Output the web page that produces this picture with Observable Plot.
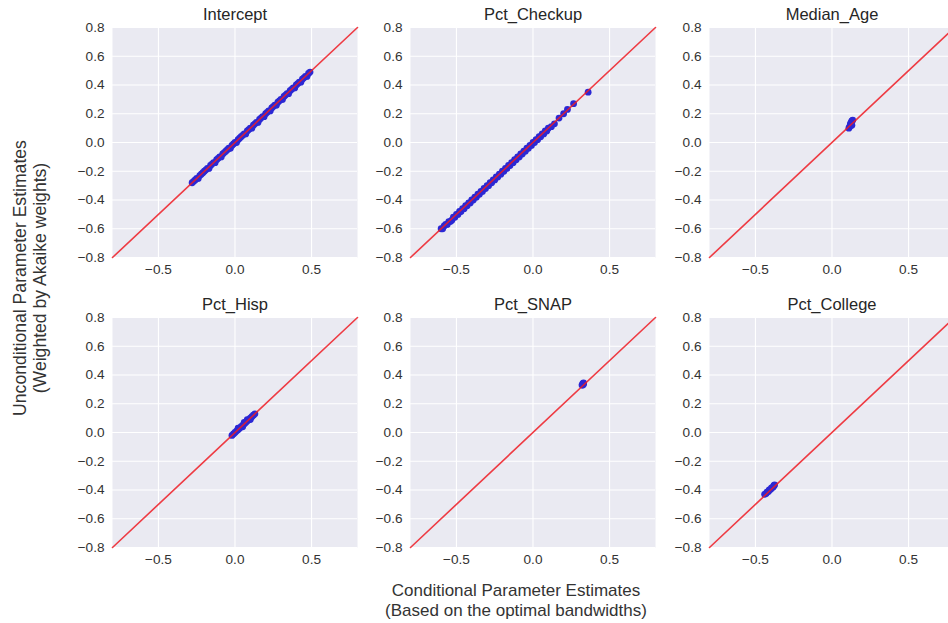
<!DOCTYPE html>
<html>
<head>
<meta charset="utf-8">
<script src="https://cdn.jsdelivr.net/npm/d3@7"></script>
<script src="https://cdn.jsdelivr.net/npm/@observablehq/plot@0.6"></script>
<style>
  body { margin: 0; background: #fff; }
  #wrap { position: relative; width: 948px; height: 623px; overflow: hidden; background: #fff;
          font-family: "Liberation Sans", Arial, sans-serif; color: #262626; }
  .panel { position: absolute; }
  .xlab { position: absolute; left: 316px; width: 400px; top: 581px; text-align: center;
          font-size: 17px; line-height: 19.6px; white-space: nowrap; color: #333; }
  .ylab { position: absolute; left: 30px; top: 278px; width: 400px; text-align: center;
          font-size: 17.6px; line-height: 20px; white-space: nowrap; color: #333;
          transform: translate(-50%, -50%) rotate(-90deg); }
</style>
</head>
<body>
<div id="wrap"></div>
<script>
// ---- data ----
const panelTitles = ["Intercept", "Pct_Checkup", "Median_Age", "Pct_Hisp", "Pct_SNAP", "Pct_College"];
const xTicks = [-0.5, 0, 0.5];
const yTicks = [-0.8, -0.6, -0.4, -0.2, 0, 0.2, 0.4, 0.6, 0.8];
const axisDomain = [-0.8, 0.8];
const diagonal = [-0.8, 0.8];

// [conditional, unconditional] estimates
const interceptPts = [[-0.28,-0.28],[-0.27,-0.27],[-0.26,-0.26],[-0.25,-0.25],[-0.24,-0.25],[-0.23,-0.23],
  [-0.22,-0.22],[-0.21,-0.21],[-0.20,-0.20],[-0.19,-0.19],[-0.18,-0.18],[-0.17,-0.18],[-0.16,-0.16],[-0.15,-0.15],
  [-0.14,-0.14],[-0.13,-0.14],[-0.12,-0.12],[-0.11,-0.11],[-0.10,-0.10],[-0.09,-0.10],[-0.08,-0.08],[-0.07,-0.07],
  [-0.06,-0.06],[-0.05,-0.05],[-0.04,-0.04],[-0.03,-0.04],[-0.02,-0.02],[-0.01,-0.01],[0.00,0.00],[0.01,0.00],
  [0.02,0.02],[0.03,0.03],[0.04,0.04],[0.05,0.05],[0.06,0.06],[0.07,0.06],[0.08,0.08],[0.09,0.09],[0.10,0.10],
  [0.11,0.10],[0.12,0.12],[0.13,0.13],[0.14,0.14],[0.15,0.14],[0.16,0.16],[0.17,0.17],[0.18,0.18],[0.19,0.18],
  [0.20,0.20],[0.21,0.21],[0.22,0.22],[0.23,0.22],[0.24,0.24],[0.25,0.25],[0.26,0.26],[0.27,0.26],[0.28,0.28],
  [0.29,0.29],[0.30,0.30],[0.31,0.30],[0.32,0.32],[0.33,0.33],[0.34,0.34],[0.35,0.34],[0.36,0.36],[0.37,0.37],
  [0.38,0.38],[0.39,0.38],[0.40,0.40],[0.41,0.41],[0.42,0.42],[0.43,0.42],[0.44,0.44],[0.45,0.45],[0.46,0.46],
  [0.47,0.46],[0.48,0.48],[0.49,0.49]];
const checkupPts = [[-0.60,-0.60],[-0.59,-0.60],[-0.58,-0.58],[-0.57,-0.57],[-0.56,-0.57],[-0.55,-0.55],
  [-0.54,-0.55],[-0.53,-0.54],[-0.52,-0.52],[-0.51,-0.52],[-0.50,-0.50],[-0.49,-0.50],[-0.48,-0.48],[-0.47,-0.48],
  [-0.46,-0.46],[-0.45,-0.46],[-0.44,-0.44],[-0.43,-0.44],[-0.42,-0.42],[-0.41,-0.42],[-0.40,-0.40],[-0.39,-0.40],
  [-0.38,-0.38],[-0.37,-0.38],[-0.36,-0.36],[-0.35,-0.36],[-0.34,-0.34],[-0.33,-0.34],[-0.32,-0.32],[-0.31,-0.32],
  [-0.30,-0.30],[-0.29,-0.30],[-0.28,-0.28],[-0.27,-0.28],[-0.26,-0.26],[-0.25,-0.26],[-0.24,-0.24],[-0.23,-0.24],
  [-0.22,-0.22],[-0.21,-0.22],[-0.20,-0.20],[-0.19,-0.20],[-0.18,-0.18],[-0.17,-0.18],[-0.16,-0.16],[-0.15,-0.16],
  [-0.14,-0.14],[-0.13,-0.14],[-0.12,-0.12],[-0.11,-0.12],[-0.10,-0.10],[-0.09,-0.10],[-0.08,-0.08],[-0.07,-0.08],
  [-0.06,-0.06],[-0.05,-0.06],[-0.04,-0.04],[-0.03,-0.04],[-0.02,-0.02],[-0.01,-0.02],[0.00,0.00],[0.01,0.00],
  [0.02,0.02],[0.03,0.02],[0.04,0.04],[0.05,0.04],[0.06,0.06],[0.07,0.06],[0.08,0.08],[0.09,0.08],[0.10,0.10],
  [0.12,0.11],[0.14,0.13],[0.17,0.17],[0.20,0.20],[0.225,0.23],[0.265,0.27],[0.36,0.35]];
const medianAgePts = [[0.11,0.10],[0.115,0.11],[0.12,0.12],[0.12,0.13],[0.125,0.14],[0.13,0.15],[0.135,0.155],[0.13,0.12]];
const hispPts = [[-0.02,-0.02],[-0.01,-0.01],[0.00,0.00],[0.01,0.01],[0.02,0.02],[0.02,0.03],[0.03,0.03],[0.04,0.04],
  [0.05,0.04],[0.05,0.05],[0.06,0.06],[0.06,0.07],[0.07,0.07],[0.08,0.08],[0.08,0.09],[0.09,0.09],[0.10,0.09],
  [0.10,0.10],[0.11,0.11],[0.12,0.12],[0.13,0.13]];
const snapPts = [[0.32,0.33],[0.325,0.34],[0.33,0.345],[0.33,0.335],[0.325,0.33]];
const collegePts = [[-0.44,-0.43],[-0.43,-0.425],[-0.425,-0.415],[-0.415,-0.41],[-0.41,-0.40],[-0.40,-0.395],
  [-0.395,-0.385],[-0.385,-0.38],[-0.38,-0.37],[-0.375,-0.365]];
const panelPoints = [interceptPts, checkupPts, medianAgePts, hispPts, snapPts, collegePts];

const xLabelLines = ["Conditional Parameter Estimates", "(Based on the optimal bandwidths)"];
const yLabelLines = ["Unconditional Parameter Estimates", "(Weighted by Akaike weights)"];

// ---- layout ----
const colLeft = [112, 410, 709];
const rowTop = [27, 317];
const mL = 50, mR = 2, mT = 27, mB = 30, pw = 245, ph = 230;

const fmt = d => d.toFixed(1).replace("-", "\u2212");
const wrap = document.getElementById("wrap");

panelTitles.forEach((title, i) => {
  const col = i % 3, row = Math.floor(i / 3);
  const svg = Plot.plot({
    width: mL + pw + mR, height: mT + ph + mB,
    marginLeft: mL, marginRight: mR, marginTop: mT, marginBottom: mB,
    style: { fontFamily: "Liberation Sans, Arial, sans-serif", fontSize: "13.6px", color: "#333", background: "transparent", overflow: "visible" },
    x: { domain: axisDomain, ticks: xTicks, tickSize: 0, tickPadding: 7, tickFormat: fmt, label: null },
    y: { domain: axisDomain, ticks: yTicks, tickSize: 0, tickPadding: 8, tickFormat: fmt, label: null },
    marks: [
      Plot.frame({ fill: "#EAEAF2", stroke: null }),
      Plot.gridX(xTicks, { stroke: "#fff", strokeOpacity: 1, strokeWidth: 1.1 }),
      Plot.gridY(yTicks, { stroke: "#fff", strokeOpacity: 1, strokeWidth: 1.1 }),
      Plot.dot(panelPoints[i], { x: d => d[0], y: d => d[1], r: 3.4, fill: "#2b28d4", stroke: "none" }),
      Plot.line(diagonal, { x: d => d, y: d => d, stroke: "#ee1c25", strokeWidth: 1.6, strokeOpacity: 0.85 }),
      Plot.text([title], { frameAnchor: "top", lineAnchor: "bottom", dy: -7.5, fontSize: 16.5, fill: "#262626", text: d => d })
    ]
  });
  svg.classList.add("panel");
  svg.style.left = (colLeft[col] - mL) + "px";
  svg.style.top = (rowTop[row] - mT) + "px";
  wrap.appendChild(svg);
});

const xl = document.createElement("div");
xl.className = "xlab";
xl.innerHTML = xLabelLines.join("<br>");
wrap.appendChild(xl);

const yl = document.createElement("div");
yl.className = "ylab";
yl.innerHTML = yLabelLines.join("<br>");
wrap.appendChild(yl);
</script>
</body>
</html>
